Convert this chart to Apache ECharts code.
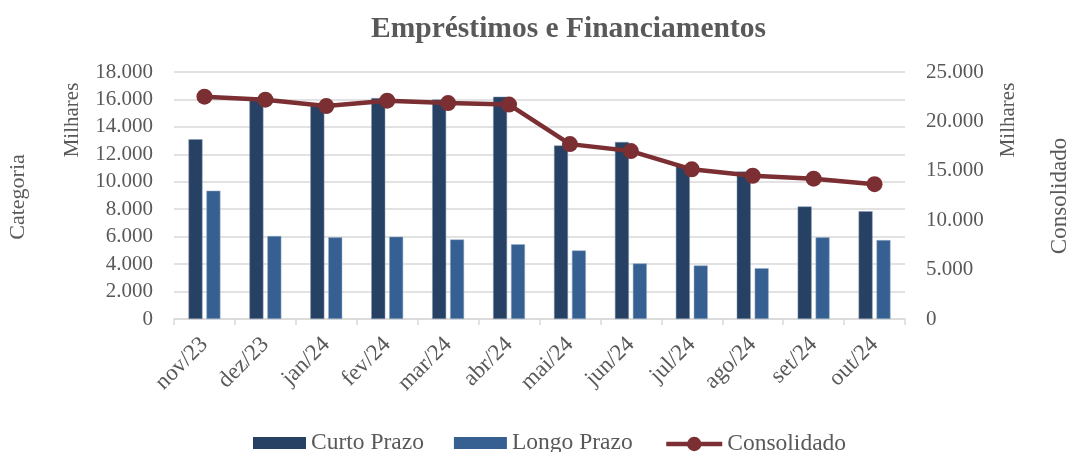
<!DOCTYPE html>
<html><head><meta charset="utf-8">
<script src="https://cdn.jsdelivr.net/npm/echarts@6/dist/echarts.min.js"></script>
<style>html,body{margin:0;padding:0;background:#fff}#c{width:1068px;height:452px}</style>
</head><body><div id="c"></div>
<script>
const categories = ['nov/23','dez/23','jan/24','fev/24','mar/24','abr/24','mai/24','jun/24','jul/24','ago/24','set/24','out/24'];
const curtoPrazo = [13100, 16150, 15600, 16100, 16000, 16200, 12650, 12900, 11200, 10750, 8200, 7850];
const longoPrazo = [9350, 6050, 5950, 6000, 5800, 5450, 5000, 4050, 3900, 3700, 5950, 5750];
const consolidado = [22500, 22200, 21550, 22100, 21850, 21700, 17700, 17000, 15150, 14500, 14200, 13650];
const leftTicks = {min: 0, max: 18000, interval: 2000};
const rightTicks = {min: 0, max: 25000, interval: 5000};

const FONT = 'Liberation Serif';
const GRAY = '#595959';
function fmtNum(v){ if(v===0) return '0'; return String(v).replace(/\B(?=(\d{3})+(?!\d))/g, '.'); }

const chart = echarts.init(document.getElementById('c'), null, {renderer: 'canvas'});
const vText = (txt, x, y, size) => ({
  type: 'text', x: x, y: y, rotation: Math.PI / 2,
  style: {text: txt, fill: GRAY, font: size + 'px "' + FONT + '"', textAlign: 'center', textVerticalAlign: 'middle'}
});
const legendText = {fontFamily: FONT, fontSize: 23.5, color: GRAY};
chart.setOption({
  animation: false,
  textStyle: {fontFamily: FONT},
  title: {
    text: 'Empréstimos e Financiamentos', left: 366, top: 9,
    textStyle: {fontFamily: FONT, fontSize: 29.5, fontWeight: 'bold', color: GRAY}
  },
  grid: {left: 174, right: 163, top: 72, bottom: 133},
  legend: [
    {
      left: 248, bottom: -8, itemWidth: 53, itemHeight: 12, itemGap: 30,
      textStyle: legendText, itemStyle: {borderWidth: 0},
      data: [{name: 'Curto Prazo', icon: 'rect'}, {name: 'Longo Prazo', icon: 'rect'}]
    },
    {
      left: 659, bottom: -9, itemWidth: 56, itemHeight: 18, itemGap: 10,
      textStyle: legendText,
      data: [{name: 'Consolidado', lineStyle: {width: 4.5}}]
    }
  ],
  graphic: [
    vText('Milhares', 72, 120, 21),
    vText('Categoria', 18, 197, 22),
    vText('Milhares', 1008, 120, 21),
    vText('Consolidado', 1060, 196, 23)
  ],
  xAxis: {
    type: 'category', data: categories, boundaryGap: true,
    axisLine: {lineStyle: {color: '#d9d9d9', width: 1.5}},
    axisTick: {show: true, length: 6, lineStyle: {color: '#d9d9d9', width: 1.5}},
    axisLabel: {rotate: 45, color: GRAY, fontSize: 23, fontFamily: FONT, margin: 22, interval: 0}
  },
  yAxis: [
    {
      type: 'value', min: leftTicks.min, max: leftTicks.max, interval: leftTicks.interval,
      axisLine: {show: false}, axisTick: {show: false},
      splitLine: {lineStyle: {color: '#d9d9d9', width: 1.5}},
      axisLabel: {color: GRAY, fontSize: 21, fontFamily: FONT, margin: 21, formatter: fmtNum}
    },
    {
      type: 'value', min: rightTicks.min, max: rightTicks.max, interval: rightTicks.interval,
      axisLine: {show: false}, axisTick: {show: false}, splitLine: {show: false},
      axisLabel: {color: GRAY, fontSize: 21, fontFamily: FONT, margin: 21, formatter: fmtNum}
    }
  ],
  series: [
    {name: 'Curto Prazo', type: 'bar', data: curtoPrazo, barWidth: 14, barGap: '28%',
     itemStyle: {color: '#264163', borderColor: '#8a9bb0', borderWidth: 0.5}},
    {name: 'Longo Prazo', type: 'bar', data: longoPrazo, barWidth: 14,
     itemStyle: {color: '#376092', borderColor: '#9db0c8', borderWidth: 0.5}},
    {name: 'Consolidado', type: 'line', yAxisIndex: 1, data: consolidado,
     symbol: 'circle', symbolSize: 16, lineStyle: {color: '#7b2f33', width: 4.5},
     itemStyle: {color: '#7b2f33'}}
  ]
});
</script></body></html>
